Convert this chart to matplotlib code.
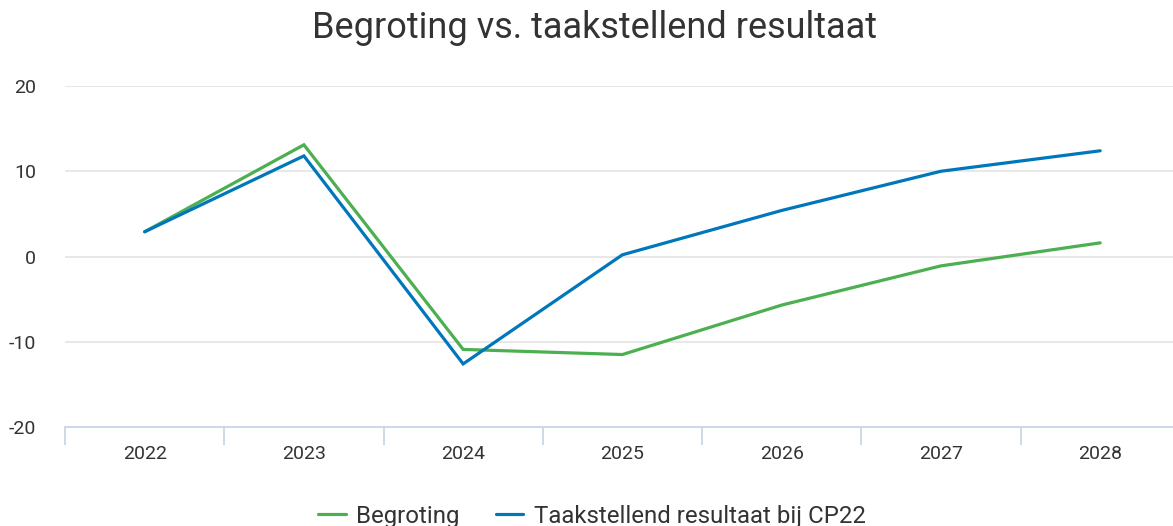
import matplotlib
matplotlib.use("Agg")
import matplotlib.pyplot as plt
import numpy as np

years = ["2022", "2023", "2024", "2025", "2026", "2027", "2028"]
begroting = [2.9, 13.1, -10.9, -11.5, -5.7, -1.1, 1.6]
taakstellend = [2.9, 11.8, -12.6, 0.2, 5.4, 10.0, 12.4]
yticks = [-20, -10, 0, 10, 20]

plt.rcParams["font.family"] = ["Roboto", "DejaVu Sans"]

W, H = 1173, 526
fig = plt.figure(figsize=(W / 100, H / 100), dpi=100)
ax = fig.add_axes([65 / W, 1 - 427 / H, (W - 65) / W, (427 - 86) / H])

x = np.arange(len(years))
ax.plot(x, begroting, color="#4caf50", lw=2.3, solid_capstyle="round",
        solid_joinstyle="miter", label="Begroting", zorder=3)
ax.plot(x, taakstellend, color="#0077bb", lw=2.3, solid_capstyle="round",
        solid_joinstyle="miter", label="Taakstellend resultaat bij CP22", zorder=4)

ax.set_xlim(-0.5, (W - 145) / 159.2)
ax.set_ylim(-20, 20)

ax.set_yticks(yticks)
ax.set_yticklabels([str(v) for v in yticks])
ax.yaxis.grid(True, color="#e6e6e6", lw=1.3)
ax.set_axisbelow(True)
ax.tick_params(axis="y", length=0, pad=21, labelsize=14, labelcolor="#333333")
for lab in ax.get_yticklabels():
    lab.set_horizontalalignment("right")

ax.set_xticks(x)
ax.set_xticklabels(years)
ax.set_xticks(np.arange(-0.5, len(years) - 0.5, 1), minor=True)
ax.tick_params(axis="x", which="major", length=0, pad=13, labelsize=14,
               labelcolor="#333333")
ax.tick_params(axis="x", which="minor", length=13, width=1.3, color="#ccd6eb")

for s in ["top", "right", "left"]:
    ax.spines[s].set_visible(False)
ax.spines["bottom"].set_color("#ccd6eb")
ax.spines["bottom"].set_linewidth(1.3)

fig.text(594 / W, 1 - 28 / H, "Begroting vs. taakstellend resultaat",
         ha="center", va="center", fontsize=26, color="#333333")

fig.legend(loc="center", bbox_to_anchor=(592 / W, 1 - 516 / H), ncol=2,
           frameon=False, fontsize=17.3, handlelength=1.14, handletextpad=0.45,
           columnspacing=1.5, labelcolor="#333333")

fig.savefig("out.png", dpi=100)
